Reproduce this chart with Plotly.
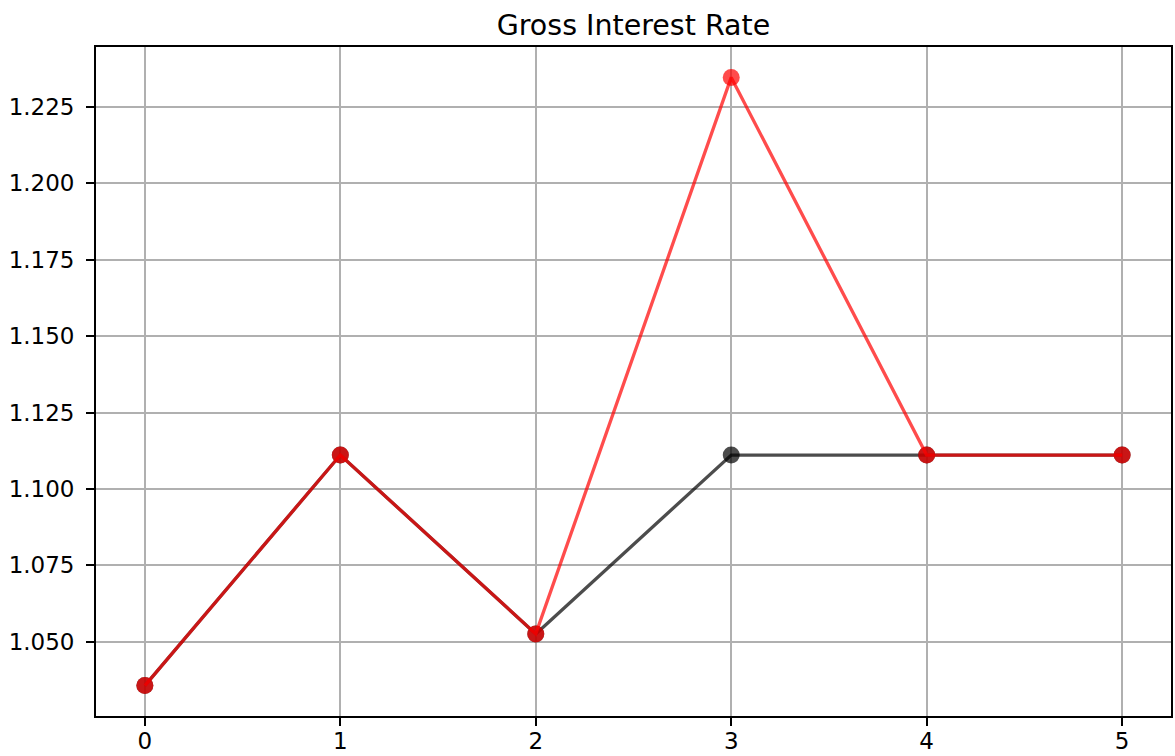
import plotly.graph_objects as go

# periods and gross interest rates
periods = [0, 1, 2, 3, 4, 5]
rate_black = [1.0357, 1.1111, 1.0526, 1.1111, 1.1111, 1.1111]
rate_red = [1.0357, 1.1111, 1.0526, 1.2346, 1.1111, 1.1111]
y_ticks = [1.050, 1.075, 1.100, 1.125, 1.150, 1.175, 1.200, 1.225]

fig = go.Figure()
fig.add_trace(go.Scatter(x=periods, y=rate_black, mode='lines+markers',
                         line=dict(color='rgba(0,0,0,0.7)', width=3.3),
                         marker=dict(color='rgba(0,0,0,0.7)', size=17),
                         showlegend=False))
fig.add_trace(go.Scatter(x=periods, y=rate_red, mode='lines+markers',
                         line=dict(color='rgba(255,0,0,0.7)', width=3.3),
                         marker=dict(color='rgba(255,0,0,0.7)', size=17),
                         showlegend=False))

axis_style = dict(showline=True, linecolor='black', linewidth=1.8, mirror=True,
                  ticks='outside', ticklen=8, tickwidth=1.8, tickcolor='black',
                  showgrid=True, gridcolor='#b0b0b0', gridwidth=1.8,
                  zeroline=False, automargin=False,
                  tickfont=dict(size=23, color='black'))

# matplotlib style 5% margins
ypad = (max(rate_red) - min(rate_red)) * 0.05
fig.update_xaxes(range=[-0.25, 5.25], tickvals=periods,
                 ticklabelstandoff=-5, **axis_style)
fig.update_yaxes(range=[min(rate_red) - ypad, max(rate_red) + ypad],
                 tickvals=y_ticks, tickformat='.3f',
                 ticklabelstandoff=7, **axis_style)

fig.update_layout(
    title=dict(text='Gross Interest Rate', x=0.5, xref='paper', xanchor='center',
               y=1, yref='paper', yanchor='bottom', pad=dict(b=12),
               font=dict(size=28.5, color='black')),
    font=dict(family='DejaVu Sans'),
    width=1175, height=756,
    margin=dict(l=96, r=4, t=47, b=40),
    plot_bgcolor='white', paper_bgcolor='white',
)

# drop the default page margin so the figure sits at the window's corner
fig.write_html("out.html", config={'displayModeBar': False},
               post_script="document.body.style.margin='0';")
